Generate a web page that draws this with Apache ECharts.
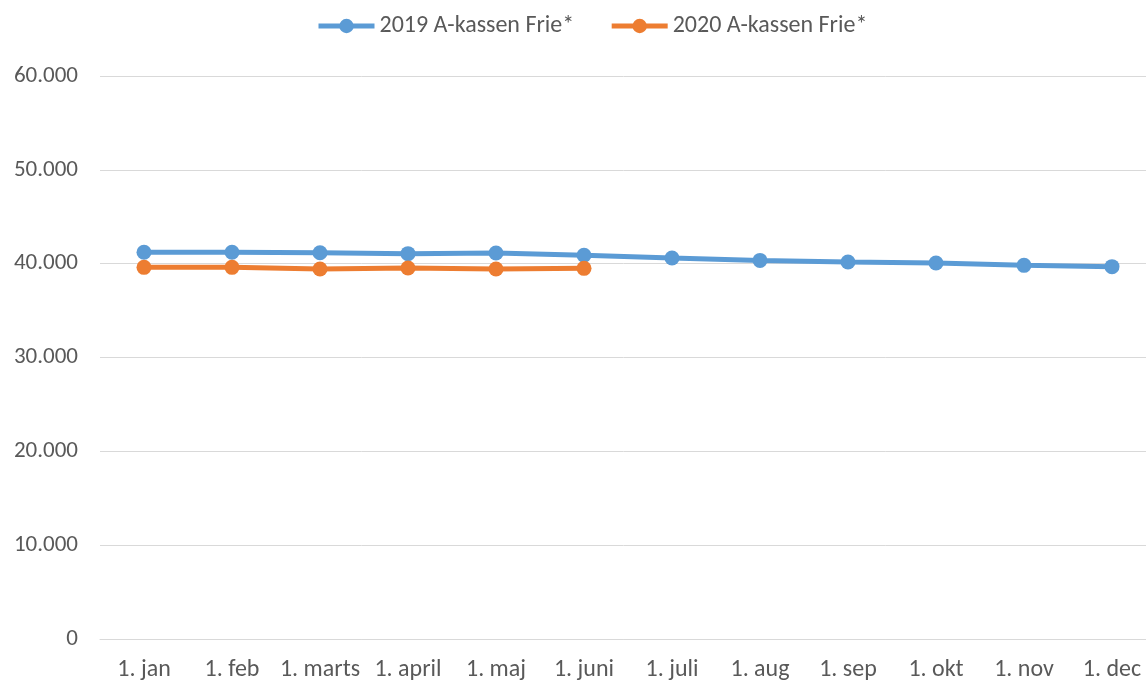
<!DOCTYPE html>
<html><head><meta charset="utf-8">
<script src="https://cdn.jsdelivr.net/npm/echarts@6/dist/echarts.min.js"></script>
<style>html,body{margin:0;padding:0;background:#fff}#c{width:1146px;height:681px}</style>
</head><body><div id="c"></div>
<script>
const categories = ['1. jan','1. feb','1. marts','1. april','1. maj','1. juni','1. juli','1. aug','1. sep','1. okt','1. nov','1. dec'];
const s2019 = [41210, 41210, 41170, 41070, 41140, 40890, 40610, 40350, 40180, 40070, 39820, 39680];
const s2020 = [39610, 39610, 39430, 39540, 39430, 39500];
const names = ['2019 A-kassen Frie*', '2020 A-kassen Frie*'];
const font = 'Calibri, Carlito, "Liberation Sans", sans-serif';
const chart = echarts.init(document.getElementById('c'), null, {renderer:'canvas'});
chart.setOption({
  animation:false,
  textStyle:{fontFamily:font},
  legend:{top:9, left:311, itemWidth:56, itemHeight:18, itemGap:35,
    lineStyle:{width:5},
    textStyle:{color:'#595959', fontSize:24, fontFamily:font},
    data:names},
  grid:{left:100, top:76, width:1056, bottom:42, outerBoundsMode:'none', containLabel:false},
  xAxis:{type:'category', data:categories, boundaryGap:true,
    axisLine:{lineStyle:{color:'#d9d9d9', width:1}}, axisTick:{show:false},
    axisLabel:{color:'#595959', fontSize:24, fontFamily:font, margin:19, interval:0}},
  yAxis:{type:'value', min:0, max:60000, interval:10000,
    axisLine:{show:false}, axisTick:{show:false},
    splitLine:{lineStyle:{color:'#d9d9d9', width:1}},
    axisLabel:{color:'#595959', fontSize:23, fontFamily:font, margin:22,
      formatter:v=>v===0?'0':String(v).replace(/\B(?=(\d{3})+(?!\d))/g,'.')}},
  series:[
    {name:names[0], type:'line', data:s2019, symbol:'circle', symbolSize:15,
      lineStyle:{color:'#5b9bd5', width:5}, itemStyle:{color:'#5b9bd5'}},
    {name:names[1], type:'line', data:s2020, symbol:'circle', symbolSize:15,
      lineStyle:{color:'#ed7d31', width:5}, itemStyle:{color:'#ed7d31'}}
  ]
});
</script></body></html>
